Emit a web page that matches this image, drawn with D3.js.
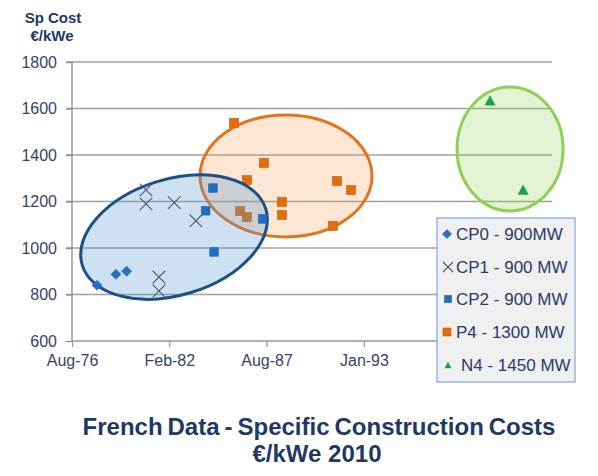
<!DOCTYPE html>
<html>
<head>
<meta charset="utf-8">
<script src="https://cdn.jsdelivr.net/npm/d3@7"></script>
<style>
  html, body { margin: 0; padding: 0; background: #ffffff; }
  svg { display: block; font-family: "Liberation Sans", Arial, sans-serif; }
</style>
</head>
<body>
<svg id="chart" width="598" height="476"></svg>
<script>
// ---------------- data ----------------
const seriesNames = ["CP0 - 900MW", "CP1 - 900 MW", "CP2 - 900 MW", "P4 - 1300 MW", "N4 - 1450 MW"];

const cp0Dates  = ["1978-01-23", "1979-02-17", "1979-09-24"];
const cp0Values = [840, 887, 900];

const cp1Dates  = ["1980-10-27", "1980-10-27", "1981-07-20", "1981-07-20", "1982-05-30", "1983-08-18"];
const cp1Values = [1250, 1190, 875, 815, 1195, 1117];

const cp2Dates  = ["1984-08-03", "1984-03-06", "1984-08-25", "1987-05-26"];
const cp2Values = [1258, 1160, 983, 1125];

const p4Dates  = ["1985-10-08", "1987-06-17", "1986-07-02", "1986-02-10", "1986-07-02",
                  "1988-06-20", "1988-06-20", "1991-07-27", "1992-05-11", "1991-05-04"];
const p4Values = [1538, 1366, 1292, 1159, 1133, 1198, 1142, 1288, 1249, 1095];

const n4Dates  = ["2000-03-06", "2002-01-15"];
const n4Values = [1635, 1251];

// the last tick (Jul-98) sits behind the legend in the reference
const xTickDates  = ["1976-08-28", "1982-02-18", "1987-08-10", "1993-01-31", "1998-07-23"];
const xTickLabels = ["Aug-76", "Feb-82", "Aug-87", "Jan-93", ""];
const xDomain     = ["1976-08-28", "2003-09-01"];
const yTickValues = [600, 800, 1000, 1200, 1400, 1600, 1800];

// grouping ellipses (annotation): centres in data units
const groupCentreDates  = ["1982-05-26", "1988-09-12", "2001-04-22"];
const groupCentreValues = [1047, 1310, 1426];

// ---------------- layout ----------------
const parse = d3.timeParse("%Y-%m-%d");
const svg = d3.select("#chart");
const pLeft = 72, pRight = 552, pTop = 62, pBottom = 341;

const x = d3.scaleTime().domain(xDomain.map(parse)).range([pLeft, pRight]);
const y = d3.scaleLinear().domain([600, 1800]).range([pBottom, pTop]);

const navy = "#1f3864";
const labelColor = "#35436a";

// gridlines
svg.append("g").selectAll("line").data(yTickValues.filter(v => v > 600)).join("line")
  .attr("x1", pLeft - 6).attr("x2", pRight)
  .attr("y1", d => y(d)).attr("y2", d => y(d))
  .attr("stroke", "#a0a0a0").attr("stroke-width", 1.3);

// y axis
const yAxis = svg.append("g").attr("transform", `translate(${pLeft},0)`)
  .call(d3.axisLeft(y).tickValues(yTickValues).tickSize(6).tickPadding(9).tickFormat(d3.format("d")));
yAxis.select(".domain").attr("stroke", "#8c8c8c").attr("stroke-width", 1.3).attr("d", `M0,${pTop}V${pBottom}`);
yAxis.selectAll(".tick line").attr("stroke", "#8c8c8c").attr("stroke-width", 1.3);
yAxis.selectAll("text").attr("fill", labelColor).attr("font-size", 16).attr("font-family", "Liberation Sans, Arial, sans-serif");

// x axis
const xTicks = xTickDates.map(parse);
const xAxis = svg.append("g").attr("transform", `translate(0,${pBottom})`)
  .call(d3.axisBottom(x).tickValues(xTicks).tickSize(6).tickPadding(8)
        .tickFormat((d, i) => xTickLabels[i]));
xAxis.select(".domain").attr("stroke", "#8a9ab8").attr("stroke-width", 1.3).attr("d", `M${pLeft},0H${pRight}`);
xAxis.selectAll(".tick line").attr("stroke", "#8a9ab8").attr("stroke-width", 1.3);
xAxis.selectAll("text").attr("fill", labelColor).attr("font-size", 16).attr("font-family", "Liberation Sans, Arial, sans-serif");
xAxis.selectAll(".tick").filter((d, i) => xTickLabels[i] === "").select("text").remove();

// ---------------- marker helpers ----------------
function diamond(g, cx, cy, r, fill) {
  g.append("path").attr("d", `M${cx},${cy - r}L${cx + r},${cy}L${cx},${cy + r}L${cx - r},${cy}Z`)
    .attr("fill", fill).attr("stroke", d3.color(fill).darker(0.5)).attr("stroke-width", 0.6);
}
function square(g, cx, cy, s, fill) {
  g.append("rect").attr("x", cx - s / 2).attr("y", cy - s / 2).attr("width", s).attr("height", s)
    .attr("fill", fill).attr("stroke", d3.color(fill).darker(0.5)).attr("stroke-width", 0.6);
}
function cross(g, cx, cy, r, stroke) {
  g.append("path").attr("d", `M${cx - r},${cy - r}L${cx + r},${cy + r}M${cx + r},${cy - r}L${cx - r},${cy + r}`)
    .attr("stroke", stroke).attr("stroke-width", 1.1).attr("fill", "none");
}
function triangle(g, cx, cy, w, fill) {
  const h = w * 0.92;
  g.append("path").attr("d", `M${cx},${cy - h / 2}L${cx + w / 2},${cy + h / 2}L${cx - w / 2},${cy + h / 2}Z`)
    .attr("fill", fill);
}

const cBlue = "#2273c6", cSq = "#1f6fc0", cGray = "#4d566a", cOrange = "#e46c0a", cGreen = "#17a34a";

// ---------------- ellipses (behind) ----------------
const ell = svg.append("g");
ell.append("ellipse")
  .attr("cx", x(parse(groupCentreDates[1]))).attr("cy", y(groupCentreValues[1]))
  .attr("rx", 86).attr("ry", 61)
  .attr("fill", "rgb(247,150,70)").attr("fill-opacity", 0.24)
  .attr("stroke", "#e07520").attr("stroke-width", 3);
ell.append("ellipse")
  .attr("cx", x(parse(groupCentreDates[2]))).attr("cy", y(groupCentreValues[2]))
  .attr("rx", 53).attr("ry", 62)
  .attr("fill", "rgb(146,208,80)").attr("fill-opacity", 0.25)
  .attr("stroke", "#8fcf55").attr("stroke-width", 3);

// P4 and N4 markers
const gBack = svg.append("g");
p4Dates.forEach((d, i) => square(gBack, x(parse(d)), y(p4Values[i]), 9, cOrange));
n4Dates.forEach((d, i) => triangle(gBack, x(parse(d)), y(n4Values[i]), 11, cGreen));

// blue ellipse on top
const bcx = x(parse(groupCentreDates[0])), bcy = y(groupCentreValues[0]);
svg.append("ellipse")
  .attr("cx", 0).attr("cy", 0).attr("rx", 96).attr("ry", 58)
  .attr("transform", `translate(${bcx},${bcy}) rotate(-17)`)
  .attr("fill", "rgb(91,155,213)").attr("fill-opacity", 0.3)
  .attr("stroke", "#1c4f86").attr("stroke-width", 3);

// CP markers
const gFront = svg.append("g");
cp0Dates.forEach((d, i) => diamond(gFront, x(parse(d)), y(cp0Values[i]), 5, cBlue));
cp1Dates.forEach((d, i) => cross(gFront, x(parse(d)), y(cp1Values[i]), 6.3, cGray));
cp2Dates.forEach((d, i) => square(gFront, x(parse(d)), y(cp2Values[i]), 8.5, cSq));

// ---------------- legend ----------------
const lg = svg.append("g");
lg.append("rect").attr("x", 437).attr("y", 218).attr("width", 138).attr("height", 164)
  .attr("fill", "#f0f0f0").attr("stroke", "#7fa5d8").attr("stroke-width", 1.2);
const rowY = [234, 267, 299, 332, 365];
diamond(lg, 447, rowY[0], 4.5, cBlue);
cross(lg, 448, rowY[1], 5, cGray);
square(lg, 448, rowY[2], 7, cSq);
square(lg, 447, rowY[3], 8, cOrange);
triangle(lg, 448, rowY[4], 7, cGreen);
lg.selectAll("text").data(seriesNames).join("text")
  .attr("x", (d, i) => i === 4 ? 461 : 456)
  .attr("y", (d, i) => rowY[i]).attr("dy", "0.36em")
  .attr("font-size", 17).attr("fill", "#2a3a66")
  .text(d => d);

// ---------------- titles ----------------
svg.append("text").attr("x", 53).attr("y", 23).attr("text-anchor", "middle")
  .attr("font-size", 15).attr("font-weight", "bold").attr("fill", navy).text("Sp Cost");
svg.append("text").attr("x", 52).attr("y", 41).attr("text-anchor", "middle")
  .attr("font-size", 15).attr("font-weight", "bold").attr("fill", navy).text("€/kWe");

svg.append("text").attr("x", 319).attr("y", 435).attr("text-anchor", "middle")
  .attr("font-size", 24).attr("font-weight", "bold").attr("fill", navy)
  .attr("word-spacing", "-1.7px")
  .text("French Data - Specific Construction Costs");
svg.append("text").attr("x", 317).attr("y", 462).attr("text-anchor", "middle")
  .attr("font-size", 24).attr("font-weight", "bold").attr("fill", navy)
  .text("€/kWe 2010");
</script>
</body>
</html>
